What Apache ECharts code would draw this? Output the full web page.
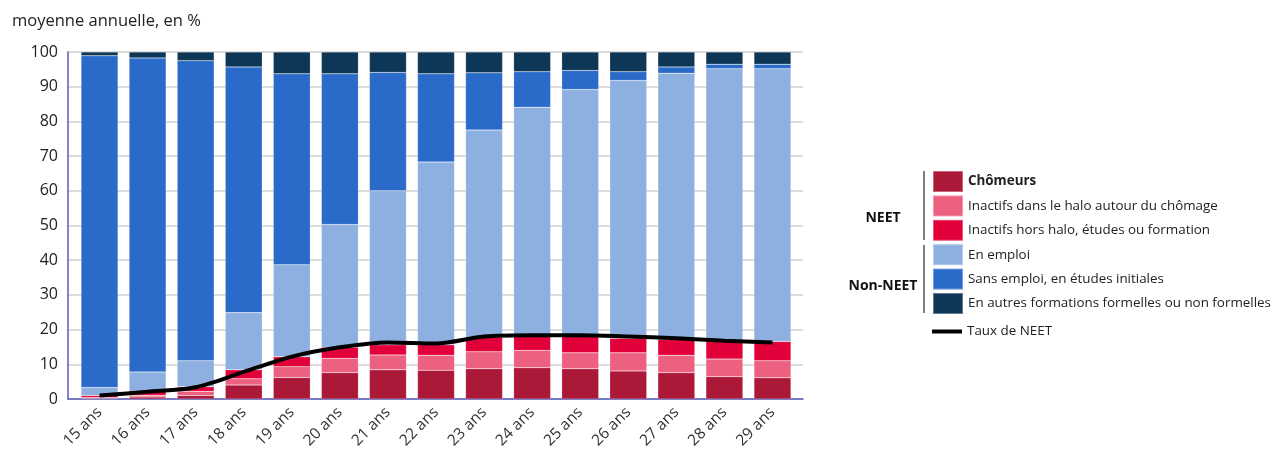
<!DOCTYPE html>
<html>
<head>
<meta charset="utf-8">
<script src="https://cdn.jsdelivr.net/npm/echarts@6/dist/echarts.min.js"></script>
<style>
  html, body { margin: 0; padding: 0; background: #fff; }
  #chart { width: 1273px; height: 459px; }
</style>
</head>
<body>
<div id="chart"></div>
<script>
// ages on the x axis
const categories = ["15 ans", "16 ans", "17 ans", "18 ans", "19 ans", "20 ans", "21 ans", "22 ans",
  "23 ans", "24 ans", "25 ans", "26 ans", "27 ans", "28 ans", "29 ans"];

// NEET parts (stacked from the bottom)
const chomeurs = [0.2, 0.6, 1.0, 4.0, 6.2, 7.6, 8.4, 8.3, 8.7, 9.0, 8.7, 8.1, 7.6, 6.4, 6.1];
const halo = [0.2, 0.5, 1.2, 1.8, 3.1, 4.1, 4.3, 4.3, 4.9, 5.0, 4.6, 5.2, 5.0, 5.1, 4.9];
const horsHalo = [0.6, 1.1, 1.3, 2.6, 2.9, 3.2, 2.9, 3.0, 4.2, 4.2, 4.9, 4.2, 4.6, 5.3, 5.6];
// non-NEET parts
const enEmploi = [2.3, 5.6, 7.5, 16.5, 26.5, 35.4, 44.4, 52.7, 59.7, 65.9, 71.0, 74.3, 76.7, 78.4, 78.6];
const sansEmploi = [95.6, 90.5, 86.5, 70.8, 55.0, 43.4, 34.1, 25.4, 16.5, 10.2, 5.5, 2.5, 1.8, 1.3, 1.3];
const autres = [1.1, 1.7, 2.5, 4.3, 6.3, 6.3, 5.9, 6.3, 6.0, 5.7, 5.3, 5.7, 4.3, 3.5, 3.5];
// taux de NEET (line)
const tauxNeet = [1.0, 2.1, 3.4, 7.8, 12.2, 14.9, 16.3, 16.0, 18.0, 18.4, 18.4, 18.0, 17.5, 16.8, 16.3];

const yTicks = { min: 0, max: 100, step: 10 };

const font = "Open Sans";
const axisColor = "#5a5ab8";
const chart = echarts.init(document.getElementById("chart"));

function barSerie(name, data, color) {
  return {
    name: name,
    type: "bar",
    stack: "total",
    xAxisIndex: 1,
    yAxisIndex: 1,
    data: data,
    barWidth: 37,
    itemStyle: { color: color, borderColor: "rgba(255,255,255,0.35)", borderWidth: 0.5 },
  };
}

const legendText = { fontFamily: font, fontSize: 13.4, color: "#222" };

const options = {
  animation: false,
  textStyle: { fontFamily: font },
  title: {
    text: "moyenne annuelle, en %",
    left: 7,
    top: 8,
    textStyle: { fontFamily: font, fontSize: 16.5, fontWeight: "normal", color: "#222" },
  },
  // grid 0 = frame with axis lines / gridlines, grid 1 = bars (a bit inset like the original)
  grid: [
    { left: 68, right: 470, top: 52, bottom: 60 },
    { left: 75.5, right: 476.5, top: 52, bottom: 60 },
  ],
  legend: [
    {
      orient: "vertical",
      left: 932,
      top: 170,
      padding: 0,
      itemWidth: 30,
      itemHeight: 21,
      itemGap: 1.4,
      itemGap: 1.4,
      icon: "rect",
      textStyle: legendText,
      data: [
        { name: "Chômeurs", textStyle: { fontWeight: "bold" } },
        "Inactifs dans le halo autour du chômage",
        "Inactifs hors halo, études ou formation",
        "En emploi",
        "Sans emploi, en études initiales",
        "En autres formations formelles ou non formelles",
      ],
    },
    {
      // line item on its own so its key is a flat bar
      left: 932,
      top: 325,
      padding: 0,
      itemWidth: 30,
      itemHeight: 4,
      icon: "rect",
      textStyle: legendText,
      data: ["Taux de NEET"],
    },
  ],
  xAxis: [
    {
      type: "value",
      gridIndex: 0,
      min: 0,
      max: 1,
      axisLine: { show: true, onZero: false, lineStyle: { color: axisColor, width: 1.5 } },
      axisTick: { show: false },
      axisLabel: { show: false },
      splitLine: { show: false },
    },
    {
      type: "category",
      gridIndex: 1,
      data: categories,
      axisLine: { show: false },
      axisTick: { show: false },
      axisLabel: { rotate: 45, fontSize: 15.5, color: "#333", margin: 11, fontFamily: font },
    },
  ],
  yAxis: [
    {
      type: "value",
      gridIndex: 0,
      min: yTicks.min,
      max: yTicks.max,
      interval: yTicks.step,
      axisLine: { show: true, lineStyle: { color: axisColor, width: 1.5 } },
      axisTick: { show: false },
      axisLabel: { fontSize: 16, color: "#222", margin: 10, fontFamily: font },
      splitLine: { lineStyle: { color: "#d0d0d0", width: 1.5 } },
    },
    {
      type: "value",
      gridIndex: 1,
      min: yTicks.min,
      max: yTicks.max,
      show: false,
    },
  ],
  series: [
    barSerie("Chômeurs", chomeurs, "#ab1838"),
    barSerie("Inactifs dans le halo autour du chômage", halo, "#ec6080"),
    barSerie("Inactifs hors halo, études ou formation", horsHalo, "#e2003a"),
    barSerie("En emploi", enEmploi, "#8eb0e0"),
    barSerie("Sans emploi, en études initiales", sansEmploi, "#2a6ac8"),
    barSerie("En autres formations formelles ou non formelles", autres, "#0e3757"),
    {
      name: "Taux de NEET",
      type: "line",
      xAxisIndex: 1,
      yAxisIndex: 1,
      data: tauxNeet,
      smooth: 0.3,
      symbol: "none",
      lineStyle: { color: "#000", width: 4 },
      itemStyle: { color: "#000" },
      z: 5,
    },
  ],
  // group brackets of the legend
  graphic: [
    { type: "line", shape: { x1: 924, y1: 171, x2: 924, y2: 240 }, style: { stroke: "#555", lineWidth: 1.5 } },
    { type: "line", shape: { x1: 924, y1: 245, x2: 924, y2: 313 }, style: { stroke: "#555", lineWidth: 1.5 } },
    {
      type: "text", x: 883, y: 218,
      style: { text: "NEET", font: "bold 14px 'Open Sans'", fill: "#111", textAlign: "center", textVerticalAlign: "middle" },
    },
    {
      type: "text", x: 883, y: 286,
      style: { text: "Non-NEET", font: "bold 14px 'Open Sans'", fill: "#111", textAlign: "center", textVerticalAlign: "middle" },
    },
  ],
};

chart.setOption(options);
</script>
</body>
</html>
